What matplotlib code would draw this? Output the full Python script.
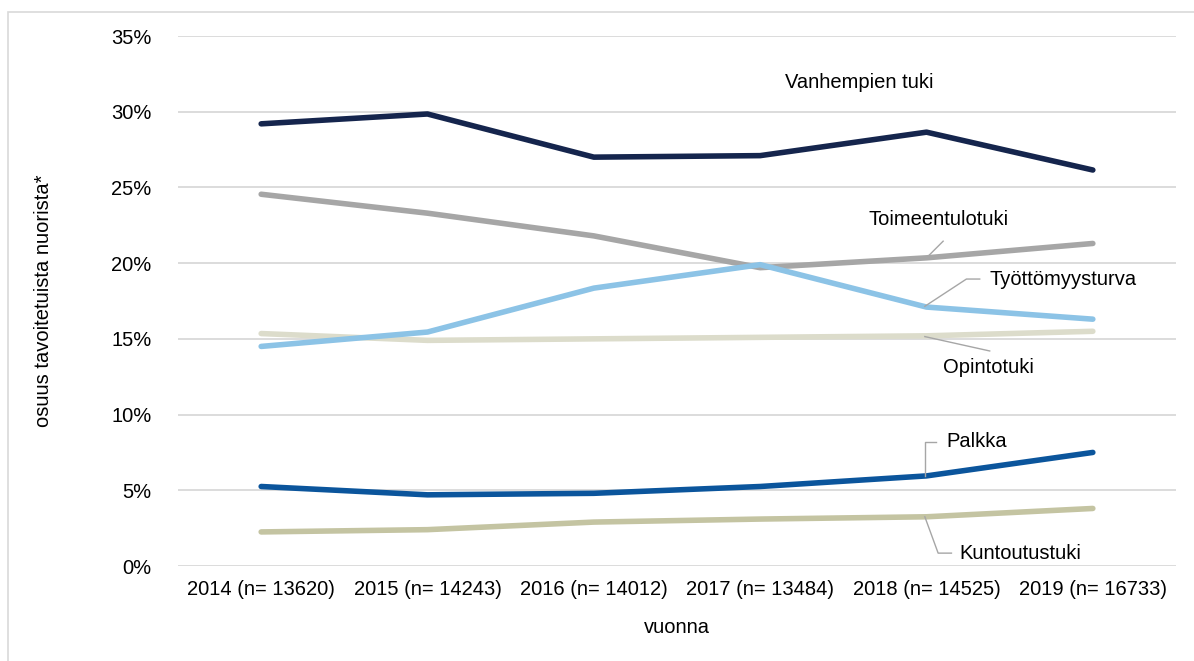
import matplotlib.pyplot as plt
from matplotlib.patches import Rectangle
from matplotlib.ticker import FuncFormatter

plt.rcParams['font.family'] = ['Liberation Sans', 'DejaVu Sans']

years = ["2014 (n= 13620)", "2015 (n= 14243)", "2016 (n= 14012)",
         "2017 (n= 13484)", "2018 (n= 14525)", "2019 (n= 16733)"]
vanhempien_tuki = [29.2, 29.85, 27.0, 27.1, 28.65, 26.15]
toimeentulotuki = [24.55, 23.3, 21.8, 19.7, 20.35, 21.3]
tyottomyysturva = [14.5, 15.45, 18.35, 19.9, 17.1, 16.3]
opintotuki = [15.35, 14.9, 15.0, 15.1, 15.2, 15.5]
palkka = [5.25, 4.7, 4.8, 5.25, 5.95, 7.5]
kuntoutustuki = [2.25, 2.4, 2.9, 3.1, 3.25, 3.8]

x = list(range(len(years)))
fs = 14.5
fig = plt.figure(figsize=(11.94, 6.61), dpi=100)
ax = fig.add_axes([178 / 1194, 1 - 566 / 661, 998 / 1194, 530 / 661])

# outer chart border
fig.patches.append(Rectangle((8 / 1194, -0.1), 1.2, (1 - 12 / 661) + 0.1, transform=fig.transFigure,
                             fill=False, edgecolor="#d9d9d9", linewidth=1.2))

series = [
    (opintotuki, "#dcdccb"),
    (kuntoutustuki, "#c4c4a2"),
    (toimeentulotuki, "#a6a6a6"),
    (tyottomyysturva, "#8cc3e6"),
    (palkka, "#0b559c"),
    (vanhempien_tuki, "#15254d"),
]
for vals, col in series:
    ax.plot(x, vals, color=col, linewidth=4.0, solid_capstyle="round", solid_joinstyle="round", zorder=3)

ax.set_xlim(-0.5, 5.5)
ax.set_ylim(0, 35)
ax.set_yticks(range(0, 36, 5))
ax.yaxis.set_major_formatter(FuncFormatter(lambda v, p: "%d%%" % v))
ax.set_xticks(x)
ax.set_xticklabels(years)
ax.grid(axis="y", color="#d9d9d9", linewidth=1.3)
ax.set_axisbelow(True)
for s in ax.spines.values():
    s.set_visible(False)
ax.tick_params(length=0, labelsize=fs, pad=10)
ax.tick_params(axis="y", pad=19)
ax.set_xlabel("vuonna", fontsize=fs, labelpad=14)
ax.set_ylabel("osuus tavoitetuista nuorista*", fontsize=fs, labelpad=42)

# labels with leader lines
lc = "#a6a6a6"
ax.text(3.15, 31.9, "Vanhempien tuki", fontsize=fs, va="center")
ax.plot([4.0, 4.1], [20.35, 21.45], color=lc, lw=1, zorder=4)
ax.text(3.65, 22.9, "Toimeentulotuki", fontsize=fs, va="center")
ax.plot([3.99, 4.24, 4.32], [17.15, 18.95, 18.95], color=lc, lw=1, zorder=4)
ax.text(4.38, 18.95, "Työttömyysturva", fontsize=fs, va="center")
ax.plot([3.99, 4.38], [15.15, 14.2], color=lc, lw=1, zorder=4)
ax.text(4.1, 13.1, "Opintotuki", fontsize=fs, va="center")
ax.plot([3.99, 3.99, 4.06], [5.95, 8.2, 8.2], color=lc, lw=1, zorder=4)
ax.text(4.12, 8.2, "Palkka", fontsize=fs, va="center")
ax.plot([3.99, 4.07, 4.15], [3.25, 0.85, 0.85], color=lc, lw=1, zorder=4)
ax.text(4.2, 0.85, "Kuntoutustuki", fontsize=fs, va="center")

plt.savefig("out.png", dpi=100)
